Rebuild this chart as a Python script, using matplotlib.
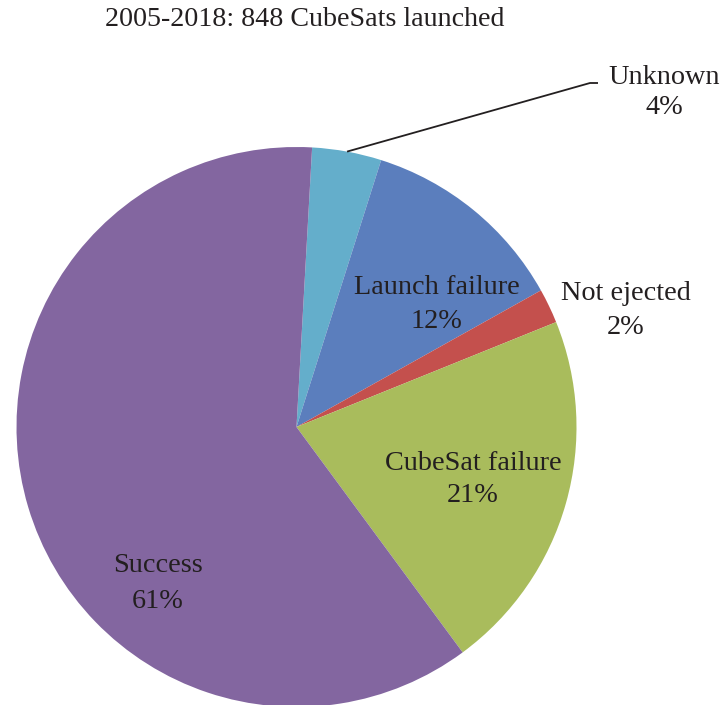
import numpy as np
import matplotlib
matplotlib.use("Agg")
import matplotlib.pyplot as plt

# CubeSat mission outcomes, 2005-2018 (percent of 848 launched)
categories = ["Unknown", "Launch failure", "Not ejected", "CubeSat failure", "Success"]
shares = [4, 12, 2, 21, 61]
colors = ["#64AECB", "#5B7EBD", "#C4504D", "#A9BC5C", "#8366A0"]
title = "2005-2018: 848 CubeSats launched"

W, H = 725, 705
fig = plt.figure(figsize=(W / 100, H / 100), dpi=100)
ax = fig.add_axes([0, 0, 1, 1])

cx, cy, r = 296.5, H - 427, 280
start = 86.8
wedges, _ = ax.pie(shares, colors=colors, startangle=start, counterclock=False,
                   radius=r, center=(cx, cy), frame=True,
                   wedgeprops=dict(linewidth=0))
ax.set_xlim(0, W)
ax.set_ylim(0, H)
ax.set_aspect("equal")
ax.axis("off")

font = dict(family=["Liberation Serif", "DejaVu Serif"], color="#231F20")

ax.text(305, H - 20, title, ha="center", va="center", fontsize=20.2, **font)

# labels placed around / inside the wedges (pixel coordinates, y from top)
label_pos = {
    "Unknown": (664, 77, 107),
    "Launch failure": (437, 287, 321),
    "Not ejected": (626, 294, 328),
    "CubeSat failure": (473, 463, 495),
    "Success": (158, 566, 602),
}
for name, share in zip(categories, shares):
    x, y1, y2 = label_pos[name]
    ax.text(x, H - y1, name, ha="center", va="center", fontsize=20.3, **font)
    ax.text(x, H - y2, f"{share}%", ha="center", va="center", fontsize=20.3, **font)

# leader line for the small "Unknown" wedge
w = wedges[0]
mid = np.deg2rad((w.theta1 + w.theta2) / 2)
ex, ey = cx + r * np.cos(mid), cy + r * np.sin(mid)
ax.plot([ex, 590, 598], [ey, H - 83, H - 83], color="#231F20", lw=1.3,
        solid_capstyle="butt")

fig.savefig("out.png", dpi=100)
